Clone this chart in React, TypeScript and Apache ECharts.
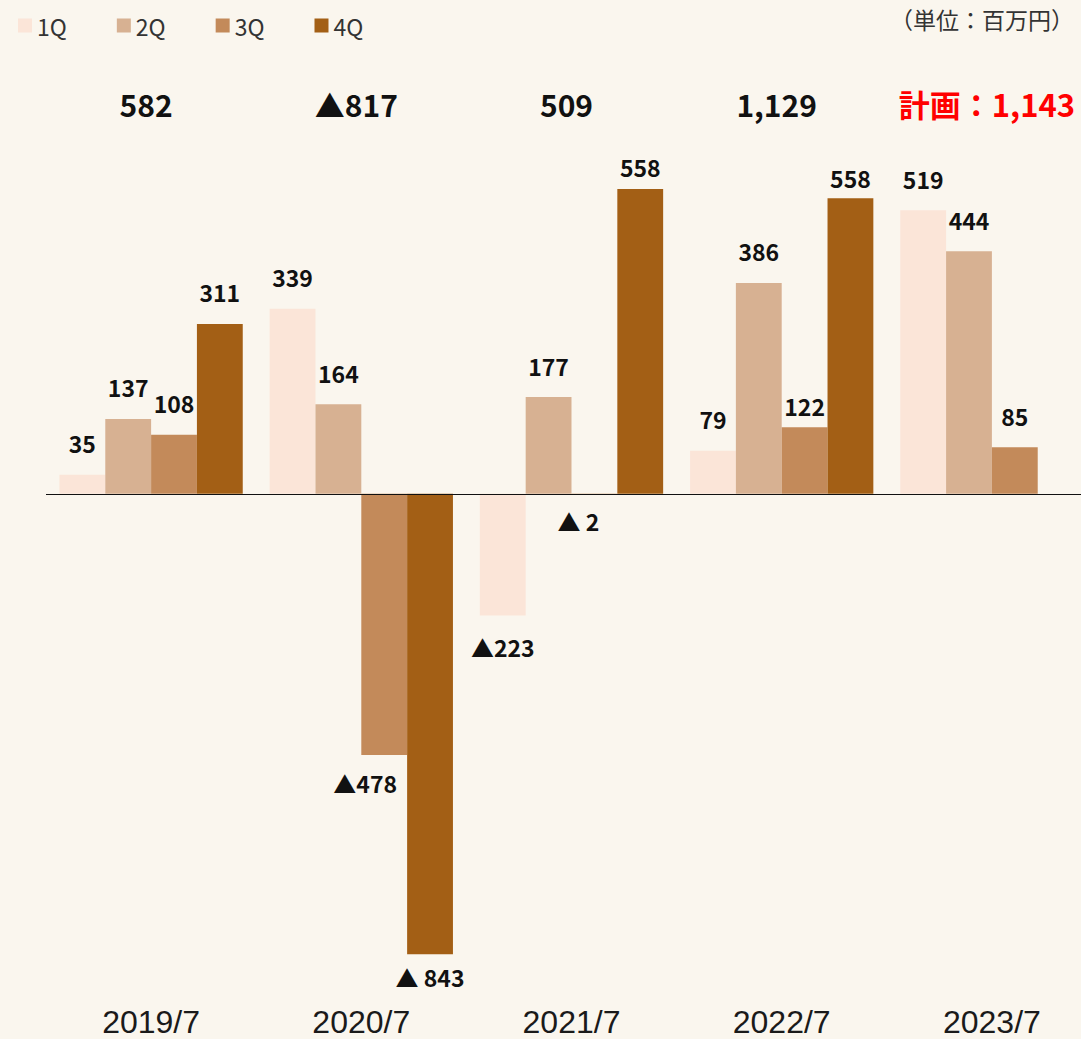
import React, { useEffect, useRef } from "react";
import * as echarts from "echarts";

const categories = ["2019/7", "2020/7", "2021/7", "2022/7", "2023/7"];
const seriesNames = ["1Q", "2Q", "3Q", "4Q"];
const q1 = [35, 339, -223, 79, 519];
const q2 = [137, 164, 177, 386, 444];
const q3 = [108, -478, -2, 122, 85];
// bar heights as drawn in the picture (2022/7 4Q bar drawn at ~541, labelled 558)
const q4: (number | null)[] = [311, -843, 558, 541, null];
const q4LabelTexts = ["311", "▲ 843", "558", "558", ""];
const totals = [582, -817, 509, 1129, 1143];
const totalPrefixes = ["", "", "", "", "計画："];
const unitText = "（単位：百万円）";

const colors = ["#FBE5D8", "#D7B192", "#C38A5A", "#A35F15"];
const BG = "#FAF6EE";
const JP = "'Noto Sans CJK JP', 'Noto Sans', sans-serif";

// label fine-tuning: key "series-index" -> [dx, dy]
const labelOffsets: Record<string, [number, number]> = {
  "3-2": [0, 9],
  "2-3": [0, 10],
  "3-3": [0, 11],
  "2-1": [-19, -3],
  "3-1": [0, -9],
  "2-2": [-16, -5],
};
const spacedNeg = ["3-1", "2-2"];

export default function App() {
  const ref = useRef<HTMLDivElement>(null);
  useEffect(() => {
    document.body.style.margin = "0";
    document.body.style.overflow = "hidden";
    document.body.style.background = BG;
    const chart = echarts.init(ref.current!, null, { renderer: "svg" });
    const all = [q1, q2, q3, q4];
    const barSeries = all.map((arr, si) => ({
      name: seriesNames[si],
      type: "bar",
      barWidth: "21.8%",
      barGap: "0%",
      itemStyle: { color: colors[si] },
      data: arr.map((v, i) => {
        if (v === null) return "-";
        const key = `${si}-${i}`;
        const off = labelOffsets[key] || [0, 0];
        const text =
          si === 3
            ? q4LabelTexts[i]
            : v < 0
            ? (spacedNeg.includes(key) ? "▲ " : "▲") + Math.abs(v)
            : String(v);
        return {
          value: v,
          label: {
            show: true,
            position: v < 0 ? "bottom" : "top",
            distance: 20,
            offset: off,
            formatter: () => text,
          },
        };
      }),
      label: {
        fontFamily: JP,
        fontWeight: "bold",
        fontSize: 23,
        color: "#111",
        textBorderWidth: 0,
      },
      markLine:
        si === 0
          ? {
              silent: true,
              symbol: "none",
              label: { show: false },
              lineStyle: { color: "#111", width: 1.2, type: "solid" },
              data: [{ yAxis: 0 }],
            }
          : undefined,
      z: 2,
    }));
    const totalSeries = {
      name: "total",
      type: "scatter",
      symbolSize: 0,
      silent: true,
      itemStyle: { color: "rgba(0,0,0,0)", opacity: 1 },
      data: totals.map((t, i) => ({
        value: 714,
        label: {
          show: true,
          position: "inside",
          offset: [-5, 0],
          fontFamily: JP,
          fontWeight: "bold",
          fontSize: totalPrefixes[i] ? 31 : 30,
          color: totalPrefixes[i] ? "#FF0000" : "#111",
          opacity: 1,
          textBorderWidth: 0,
          textBorderColor: "transparent",
          formatter: () =>
            totalPrefixes[i] +
            (t < 0 ? "▲" : "") +
            Math.abs(t).toLocaleString("en-US"),
        },
      })),
    };
    chart.setOption({
      animation: false,
      backgroundColor: BG,
      legend: {
        data: seriesNames,
        left: 13,
        top: 9,
        itemWidth: 14,
        itemHeight: 14,
        itemGap: 50,
        icon: "rect",
        textStyle: {
          fontFamily: JP,
          fontSize: 23,
          color: "#333",
        },
      },
      grid: { left: 46, right: 0, top: 2.2, height: 983.2, containLabel: false },
      xAxis: {
        type: "category",
        data: categories,
        axisLine: { show: false },
        axisTick: { show: false },
        axisLabel: {
          fontFamily: "'Liberation Sans', Arial, sans-serif",
          fontSize: 32,
          lineHeight: 24,
          color: "#1a1a1a",
          margin: 25,
        },
      },
      yAxis: {
        type: "value",
        min: -900,
        max: 900,
        show: false,
        splitLine: { show: false },
      },
      graphic: [
        {
          type: "text",
          left: 890,
          top: 7,
          style: {
            text: unitText,
            fontFamily: JP,
            fontSize: 23,
            fill: "#333",
          },
        },
      ],
      series: [...barSeries, totalSeries],
    });
    return () => chart.dispose();
  }, []);
  return (
    <div
      style={{
        width: 1081,
        height: 1039,
        position: "absolute",
        left: 0,
        top: 0,
        overflow: "hidden",
        background: BG,
      }}
    >
      <div ref={ref} style={{ width: 1097, height: 1039 }} />
    </div>
  );
}
